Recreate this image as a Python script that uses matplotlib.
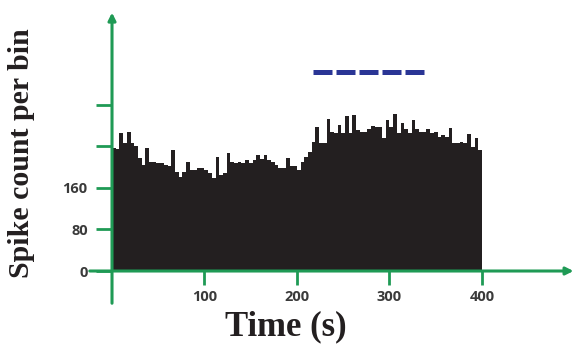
import numpy as np
import matplotlib
matplotlib.use('agg')
import matplotlib.pyplot as plt

# spike counts per 4 s bin, 0-400 s
bin_width = 4
counts = [236, 234, 265, 246, 268, 247, 240, 217, 204, 236,
          210, 210, 208, 207, 204, 201, 233, 191, 181, 191,
          210, 195, 195, 198, 198, 195, 188, 178, 220, 185,
          188, 226, 210, 208, 210, 207, 213, 207, 213, 223,
          215, 223, 213, 210, 204, 198, 198, 217, 201, 201,
          195, 210, 220, 229, 249, 276, 246, 246, 292, 268,
          265, 281, 265, 298, 265, 300, 271, 268, 268, 274,
          278, 277, 276, 255, 290, 276, 302, 265, 285, 274,
          265, 290, 274, 268, 268, 274, 265, 268, 258, 261,
          258, 275, 246, 246, 249, 246, 263, 239, 256, 233]
bin_left = np.arange(len(counts)) * bin_width

xticks = [100, 200, 300, 400]
yticks = [0, 80, 160, 240, 320]
ytick_labels = ['0', '80', '160', '', '']

# stimulus period (blue dashed bar)
stim_start, stim_end, stim_level = 217.6, 337.3, 382

green = '#1f9a55'
dark = '#231f20'

fig = plt.figure(figsize=(5.74, 3.49), dpi=100)
ax = fig.add_axes([0, 0, 1, 1])
ax.set_xlim(-121.1, 499.5)
ax.set_ylim(-150, 521.2)

ax.bar(bin_left, counts, width=bin_width, align='edge', color=dark, linewidth=0)

ax.plot([stim_start, stim_end], [stim_level, stim_level], color='#2a3595',
        lw=3.6, linestyle=(0, (3.8, 0.8)), solid_capstyle='butt', dash_capstyle='butt')

# axes through the origin, drawn as green arrows
for s in ['top', 'right', 'left', 'bottom']:
    ax.spines[s].set_visible(False)
ax.spines['left'].set_position(('data', 0))
ax.spines['bottom'].set_position(('data', 0))
ax.annotate('', xy=(0, 497), xytext=(0, -62),
            arrowprops=dict(arrowstyle='-|>', color=green, lw=2.2, mutation_scale=11,
                            shrinkA=0, shrinkB=0))
ax.annotate('', xy=(499, 0), xytext=(-24, 0),
            arrowprops=dict(arrowstyle='-|>', color=green, lw=2.2, mutation_scale=11,
                            shrinkA=0, shrinkB=0))

ax.set_xticks(xticks)
ax.set_xticklabels([str(t) for t in xticks])
ax.set_yticks(yticks)
ax.set_yticklabels(ytick_labels)
ax.tick_params(axis='x', direction='out', length=10, width=2, color=green, pad=4)
ax.tick_params(axis='y', direction='out', length=11.5, width=2, color=green, pad=6)
for lab in ax.get_xticklabels() + ax.get_yticklabels():
    lab.set_fontfamily('Open Sans')
    lab.set_fontweight('bold')
    lab.set_fontsize(10.5)
    lab.set_color('#3a3a3a')

fig.text(286 / 574, 1 - 327 / 349, 'Time (s)', ha='center', va='center',
         fontsize=25, fontweight='bold', family='Liberation Serif', color=dark)
fig.text(22 / 574, 1 - 153 / 349, 'Spike count per bin', ha='center', va='center',
         rotation=90, fontsize=21.5, fontweight='bold', family='Liberation Serif', color=dark)

fig.savefig('out.png', dpi=100)
